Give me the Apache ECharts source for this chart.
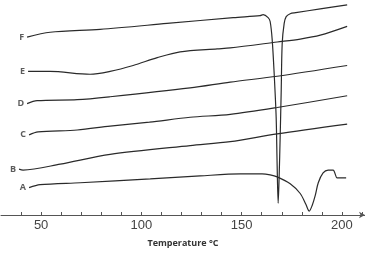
<!DOCTYPE html>
<html>
<head>
<meta charset="utf-8">
<script src="https://cdn.jsdelivr.net/npm/echarts@6/dist/echarts.min.js"></script>
<style>
html, body { margin: 0; padding: 0; background: #fff; }
#chart { width: 365px; height: 253px; }
</style>
</head>
<body>
<div id="chart"></div>
<script>
// DSC traces, [temperature °C, offset signal (arbitrary units)]
var curveA = [[44, 28], [49.5, 31], [69.5, 33], [104.4, 37], [129.3, 40], [149.3, 42], [160.2, 42], [164.2, 41],
    [167.7, 39], [174.2, 32], [179.2, 22], [182, 11], [183.7, 4], [185.2, 10], [186.7, 20], [188.2, 33],
    [190.6, 43], [193.1, 46], [195.6, 46], [197.6, 38], [199.1, 38], [202.1, 38]];
var curveB = [[39, 47], [41, 46], [59.5, 52], [84.4, 62], [124.3, 71], [144.3, 75], [167.7, 83], [202.6, 93]];
var curveC = [[44, 82], [48.5, 85], [68, 87], [84.4, 91], [104, 95], [124.3, 100], [144.3, 103], [167.7, 110],
    [202.6, 122]];
var curveD = [[43, 114], [48, 117], [68, 118], [84.4, 121], [124.3, 130], [144.3, 136], [167.7, 142], [202.6, 153]];
var curveE = [[43.5, 147], [54.5, 147], [74.4, 144], [84.4, 147], [95.9, 153], [107.9, 161], [119.3, 167],
    [137.8, 170], [144.3, 171], [167.7, 177], [179.2, 180], [189.2, 184], [202.6, 193]];
var curveF = [[43, 182], [54.5, 187], [79.4, 190], [112.8, 196], [145.8, 202], [159.2, 204], [160.7, 205],
    [163.2, 202], [164.2, 198], [165.2, 180], [166.2, 145], [167.2, 100], [167.7, 50], [168.2, 12],
    [168.7, 40], [169.2, 80], [169.7, 125], [170.2, 175], [171.2, 196], [172.2, 203], [174.2, 206],
    [177, 207], [189.2, 211], [202.6, 215]];

var names = ['A', 'B', 'C', 'D', 'E', 'F'];
var curves = [curveA, curveB, curveC, curveD, curveE, curveF];
var xTicks = [50, 100, 150, 200];

var myChart = echarts.init(document.getElementById('chart'));

var series = curves.map(function (c, i) {
    return {
        name: names[i],
        type: 'line',
        data: c,
        smooth: 0.3,
        showSymbol: false,
        silent: true,
        lineStyle: { color: '#2a2a2a', width: 1.2 }
    };
});

// letter labels at the start of each trace
series.push({
    type: 'scatter',
    symbolSize: 0,
    silent: true,
    data: curves.map(function (c, i) {
        return { name: names[i], value: c[0] };
    }),
    label: {
        show: true,
        position: 'left',
        distance: 3,
        formatter: '{b}',
        color: '#333',
        fontSize: 9,
        fontWeight: 'bold',
        fontFamily: 'Open Sans'
    }
});

var option = {
    animation: false,
    grid: { left: 1, right: 0, top: 0, bottom: 33 },
    xAxis: {
        type: 'value',
        min: 30,
        max: 211.5,
        interval: 10,
        name: 'Temperature °C',
        nameLocation: 'middle',
        nameGap: 24,
        nameTextStyle: { color: '#333', fontSize: 9, fontWeight: 'bold', fontFamily: 'Open Sans' },
        axisLine: {
            lineStyle: { color: '#555', width: 1 },
            symbol: ['none', 'arrow'],
            symbolSize: [5, 6]
        },
        axisTick: { inside: true, length: 3, lineStyle: { color: '#555' } },
        axisLabel: {
            margin: 4,
            color: '#444',
            fontSize: 13,
            fontFamily: 'Liberation Sans',
            showMinLabel: false,
            showMaxLabel: false,
            formatter: function (v) { return xTicks.indexOf(v) >= 0 ? String(v) : ''; }
        },
        splitLine: { show: false }
    },
    yAxis: {
        type: 'value',
        min: 0,
        max: 220,
        show: false
    },
    series: series
};

myChart.setOption(option);
</script>
</body>
</html>
